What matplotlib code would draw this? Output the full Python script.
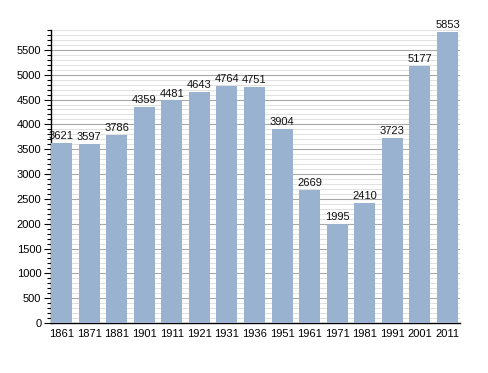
import matplotlib
matplotlib.use('Agg')
import matplotlib.pyplot as plt
import matplotlib.ticker as mticker

# ─── Data ────────────────────────────────────────────────────────────────────
years = ['1861', '1871', '1881', '1901', '1911', '1921', '1931', '1936',
         '1951', '1961', '1971', '1981', '1991', '2001', '2011']
population = [3621, 3597, 3786, 4359, 4481, 4643, 4764, 4751,
              3904, 2669, 1995, 2410, 3723, 5177, 5853]

BAR_COLOR = "#99b2cf"
MAJOR_GRID = "#a8a8a8"
MINOR_GRID = "#dcdcdc"

plt.rcParams['font.family'] = ['Liberation Sans', 'DejaVu Sans']

fig = plt.figure(figsize=(4.88, 3.73), dpi=100)
ax = fig.add_axes([0.1045, 0.134, 0.8385, 0.7855])

width = 0.76
x = range(len(years))
bars = ax.bar(x, population, width=width, color=BAR_COLOR, zorder=3)

for xi, val in zip(x, population):
    ax.text(xi, val + 40, str(val), ha='center', va='bottom', fontsize=8,
            color='#111111', zorder=4)

ax.set_xlim(-width / 2, len(years) - 1 + width / 2 + 0.08)
ax.set_ylim(0, 5900)
ax.set_xticks(list(x))
ax.set_xticklabels(years, fontsize=8)
ax.tick_params(axis='x', length=0, pad=4)

ax.yaxis.set_major_locator(mticker.MultipleLocator(500))
ax.yaxis.set_minor_locator(mticker.MultipleLocator(100))
ax.tick_params(axis='y', which='major', length=5, width=0.8, labelsize=8, pad=2)
ax.tick_params(axis='y', which='minor', length=3, width=0.8)

ax.grid(axis='y', which='major', color=MAJOR_GRID, linewidth=0.8, zorder=0)
ax.grid(axis='y', which='minor', color=MINOR_GRID, linewidth=0.6, zorder=0)
ax.set_axisbelow(True)

for side in ['top', 'right']:
    ax.spines[side].set_visible(False)
ax.spines['left'].set_color('black')
ax.spines['bottom'].set_color('black')
ax.spines['left'].set_linewidth(1.0)
ax.spines['bottom'].set_linewidth(1.0)

fig.savefig('out.png', dpi=100, facecolor='white')
